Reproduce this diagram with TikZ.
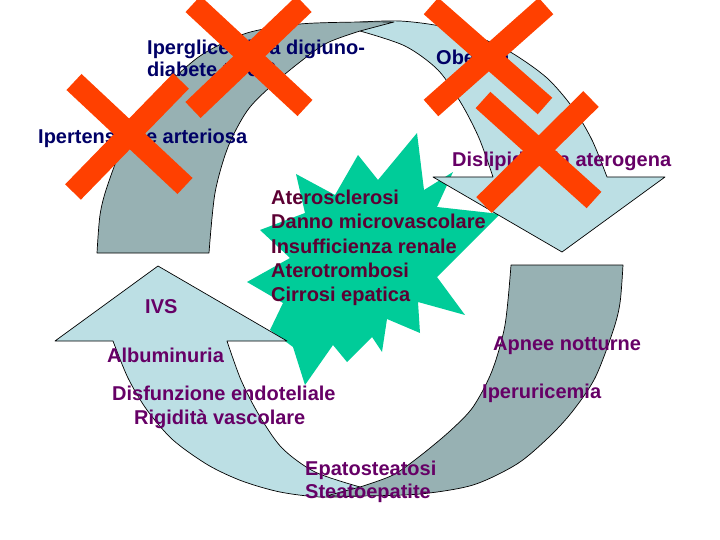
\documentclass[tikz,border=0pt]{standalone}
\usepackage{fontspec}
\setmainfont{Liberation Sans}
\definecolor{bandgray}{HTML}{97B1B3}
\definecolor{bandblue}{HTML}{BCDFE4}
\definecolor{stargreen}{HTML}{00CC99}
\definecolor{navytxt}{HTML}{000066}
\definecolor{purptxt}{HTML}{660066}
\definecolor{startxt}{HTML}{5C0033}
\definecolor{crossred}{HTML}{FF4000}
\begin{document}
\begin{tikzpicture}[x=1pt,y=-1pt,
  band/.style={draw=black,line width=0.7pt,line join=round},
  grayband/.style={band,fill=bandgray},
  blueband/.style={band,fill=bandblue},
  lbl/.style={anchor=base west,inner sep=0pt,font=\fontsize{20}{24}\selectfont\bfseries},
  navy/.style={lbl,text=navytxt},
  purp/.style={lbl,text=purptxt},
  starlbl/.style={lbl,text=startxt},
  cross/.style={draw=crossred,line width=22pt,line cap=butt}]
\useasboundingbox (0,0) rectangle (720,540);
% starburst
\fill[stargreen] (417,133) -- (424,190) -- (453,172) -- (437,207) -- (500,214) -- (437,277)
  -- (465,315) -- (418,302) -- (420,333) -- (387,319) -- (382,352) -- (372,337) -- (347,362)
  -- (333,345) -- (305,385) -- (293,347) -- (270,330) -- (283,303) -- (247,282) -- (290,258)
  -- (260,230) -- (305,213) -- (296,174) -- (335,195) -- (358,155) -- (378,180) -- cycle;
% circular arrows (second one is the first turned by 180 degrees)
\foreach \r in {0,180}{
\begin{scope}[rotate around={\r:(360,259)}]
\path[blueband] plot[smooth] coordinates {(360,22) (400,21) (440,26) (478,37) (512,53) (547,78) (573,108) (592,140) (607,177)}
  -- (665,177) -- (562,252) -- (433,177) -- (493,177)
  -- plot[smooth] coordinates {(493,177) (479,138) (461,103) (438,70) (405,46) (360,31)} -- cycle;
\path[grayband] plot[smooth] coordinates {(97,253) (100,215) (107,187) (125,140) (148,106) (172,80) (203,54) (247,33) (300,24) (360,22) (394,22)}
  -- plot[smooth] coordinates {(360,31) (327,43) (300,62) (270,87) (247,111) (228,147) (215,193) (209,253)} -- cycle;
\end{scope}}
% labels
\node[navy] (t1a) at (147,55) {Iperglicemia a digiuno-};
\node[navy] (t1b) at (147,77) {diabete tipo 2};
\node[navy] (t2) at (436,65) {Obesità};
\node[navy] (t3) at (38,144) {Ipertensione arteriosa};
\node[purp] (t4) at (452,167) {Dislipidemia aterogena};
\node[starlbl] (s1) at (271,205) {Aterosclerosi};
\node[starlbl] (s2) at (271,229) {Danno microvascolare};
\node[starlbl] (s3) at (271,253) {Insufficienza renale};
\node[starlbl] (s4) at (271,277) {Aterotrombosi};
\node[starlbl] (s5) at (271,301) {Cirrosi epatica};
\node[purp] (ivs) at (145,313) {IVS};
\node[purp] (alb) at (107,362) {Albuminuria};
\node[purp] (dis) at (112,400) {Disfunzione endoteliale};
\node[purp] (rig) at (134,424) {Rigidità vascolare};
\node[purp] (ep1) at (305,475) {Epatosteatosi};
\node[purp] (ep2) at (305,498) {Steatoepatite};
\node[purp] (apn) at (493,350) {Apnee notturne};
\node[purp] (ipu) at (482,398) {Iperuricemia};
% crosses
\draw[cross] (193,4) -- (305,108);
\draw[cross] (304,4) -- (193,110);
\draw[cross] (74,82) -- (185,186);
\draw[cross] (181,81) -- (73,192);
\draw[cross] (431,6) -- (545,106);
\draw[cross] (546,6) -- (431,108);
\draw[cross] (483,100) -- (594,200);
\draw[cross] (591,99) -- (484,205);
\end{tikzpicture}
\end{document}
